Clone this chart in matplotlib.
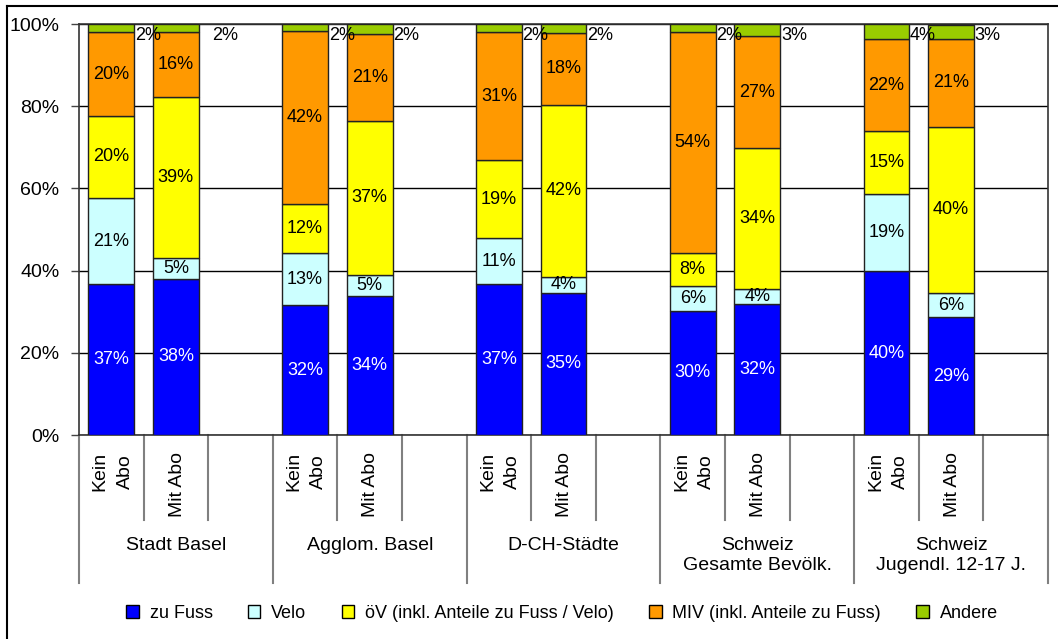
import numpy as np
import matplotlib.pyplot as plt
from matplotlib.lines import Line2D
from matplotlib.patches import Patch

plt.rcParams['font.family'] = ['Liberation Sans', 'DejaVu Sans']

groups = ['Stadt Basel', 'Agglom. Basel', 'D-CH-Städte',
          'Schweiz\nGesamte Bevölk.', 'Schweiz\nJugendl. 12-17 J.']
subgroups = ['Kein\nAbo', 'Mit Abo']
series = ['zu Fuss', 'Velo', 'öV (inkl. Anteile zu Fuss / Velo)',
          'MIV (inkl. Anteile zu Fuss)', 'Andere']
colors = ['#0000FF', '#CCFFFF', '#FFFF00', '#FF9900', '#99CC00']

# share per bar (Kein Abo, Mit Abo for each group), in %
zu_fuss = [36.7, 38.0, 31.6, 33.8, 36.7, 34.6, 30.2, 31.9, 39.9, 28.6]
velo = [21.0, 5.1, 12.6, 5.2, 11.2, 3.9, 6.1, 3.6, 18.7, 6.0]
oev = [19.9, 39.1, 12.0, 37.4, 19.0, 41.8, 8.0, 34.3, 15.4, 40.4]
miv = [20.4, 15.8, 42.0, 21.2, 31.1, 17.6, 53.7, 27.3, 22.3, 21.4]
andere = [2.0, 2.0, 1.8, 2.4, 2.0, 2.1, 2.0, 2.9, 3.7, 3.4]
values = [zu_fuss, velo, oev, miv, andere]

fig = plt.figure(figsize=(10.58, 6.39), dpi=100)
ax = fig.add_axes([79/1058, 1-435/639, (1048-79)/1058, (435-24)/639])

# frame of the chart area (cropped on right/bottom)
fig.add_artist(Line2D([7/1058, 7/1058], [0, 1-6/639], color='black', lw=1.5))
fig.add_artist(Line2D([7/1058, 1], [1-6/639, 1-6/639], color='black', lw=1.5))

pos = []
for g in range(len(groups)):
    pos += [g*3, g*3+1]
pos = np.array(pos)
bw = 0.71

bottom = np.zeros(len(pos))
for k, vals in enumerate(values):
    vals = np.array(vals)
    ax.bar(pos, vals, bw, bottom=bottom, color=colors[k], edgecolor='#222222',
           linewidth=1, zorder=3, label=series[k])
    for i, v in enumerate(vals):
        txt = '%.0f%%' % v
        if k == 4:
            dx = 0.2 if i == 1 else 0.01
            ax.text(pos[i] + bw/2 + dx, 97.3, txt, ha='left', va='center',
                    fontsize=13, zorder=4)
        else:
            ax.text(pos[i], bottom[i] + v/2, txt, ha='center', va='center',
                    fontsize=13, color='white' if k == 0 else 'black', zorder=4)
    bottom += vals

ax.set_xlim(-0.5, len(groups)*3 - 0.5)
ax.set_ylim(0, 100)
ax.set_yticks(range(0, 101, 20))
ax.set_yticklabels(['%d%%' % t for t in range(0, 101, 20)], fontsize=14)
ax.tick_params(axis='y', length=6, width=1, pad=8, color='#444444')
ax.set_xticks([])
ax.yaxis.grid(True, color='black', lw=1, zorder=0)
for s in ax.spines.values():
    s.set_color('#333333')
    s.set_linewidth(1.2)

# category axis with separators
trans = ax.get_xaxis_transform()
for b in range(len(groups)*3 + 1):
    xb = b - 0.5
    low = 583 if b % 3 == 0 else 520
    ax.add_artist(Line2D([xb, xb], [0, -(low-435)/411], transform=trans,
                         color='#808080', lw=1.5, clip_on=False))
for i, p in enumerate(pos):
    ax.text(p + 0.02, -(452-435)/411, subgroups[i % 2], transform=trans, rotation=90,
            ha='center', va='top', fontsize=14, multialignment='center',
            linespacing=1.6)
for g, name in enumerate(groups):
    ax.text(g*3 + 1, -(537-435)/411, name, transform=trans, ha='center',
            va='top', fontsize=14, linespacing=1.25)

handles = [Patch(facecolor=c, edgecolor='black', lw=1) for c in colors]
fig.legend(handles, series, loc='center', bbox_to_anchor=(562/1058, 1-613/639),
           ncol=5, frameon=False, fontsize=13, handlelength=0.7, handleheight=0.7,
           handletextpad=0.6, columnspacing=1.95)

fig.savefig('out.png', dpi=100)
